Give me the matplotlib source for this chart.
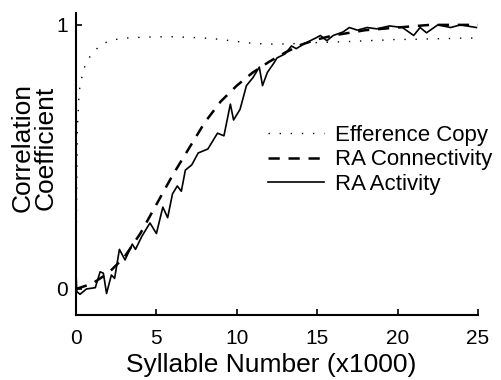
import matplotlib
matplotlib.use("Agg")
import matplotlib.pyplot as plt

plt.rcParams['font.family'] = ['Liberation Sans', 'DejaVu Sans']

# Efference copy (dotted)
eff_x = [0, 0.03, 0.08, 0.2, 0.45, 0.87, 1.3, 1.7, 2.3, 3, 4, 5, 6, 7, 8, 9, 10, 11, 12,
         13, 14, 15, 16, 17, 18, 19, 20, 21, 22, 23, 24, 25]
eff_y = [0.0, 0.3, 0.6, 0.75, 0.83, 0.88, 0.91, 0.93, 0.943, 0.95, 0.953, 0.955, 0.955,
         0.953, 0.95, 0.945, 0.937, 0.93, 0.927, 0.928, 0.93, 0.933, 0.935, 0.937, 0.94,
         0.942, 0.945, 0.945, 0.947, 0.948, 0.95, 0.95]

# RA connectivity (dashed)
con_x = list(range(0, 26))
con_y = [0.0, 0.02, 0.06, 0.12, 0.21, 0.32, 0.43, 0.53, 0.63, 0.71, 0.77, 0.82, 0.86,
         0.895, 0.925, 0.945, 0.96, 0.97, 0.98, 0.985, 0.99, 0.995, 1.0, 1.0, 1.0, 1.0]

# RA activity (solid)
act_x = [0.0, 0.05, 0.25, 0.65, 1.2, 1.5, 1.7, 1.9, 2.2, 2.4, 2.7, 3.05, 3.5, 3.7, 4.1,
         4.6, 5.0, 5.4, 5.7, 6.0, 6.3, 6.55, 6.8, 7.2, 7.6, 8.2, 8.5, 8.8, 9.2, 9.6, 9.8,
         10.2, 10.6, 11.0, 11.4, 11.6, 11.9, 12.3, 12.5, 13.0, 13.4, 13.7, 14.1, 14.4,
         14.9, 15.2, 15.6, 16.0, 16.6, 17.0, 17.5, 18.1, 18.7, 19.5, 20.3, 21.0, 21.4,
         21.8, 22.5, 23.3, 23.9, 24.4, 24.9]
act_y = [0.06, -0.01, -0.02, 0.0, 0.005, 0.065, 0.06, -0.017, 0.053, 0.04, 0.15, 0.11,
         0.17, 0.15, 0.2, 0.25, 0.21, 0.31, 0.27, 0.36, 0.39, 0.37, 0.45, 0.47, 0.515,
         0.53, 0.56, 0.59, 0.58, 0.70, 0.64, 0.68, 0.77, 0.80, 0.84, 0.77, 0.82, 0.855,
         0.875, 0.89, 0.92, 0.91, 0.925, 0.935, 0.95, 0.96, 0.94, 0.96, 0.973, 0.99, 0.98,
         0.99, 0.985, 0.996, 0.99, 0.96, 0.99, 0.97, 1.0, 0.99, 1.0, 0.995, 0.99]

labels = ["Efference Copy", "RA Connectivity", "RA Activity"]
x_ticks = [0, 5, 10, 15, 20, 25]
y_ticks = [0, 1]

fig = plt.figure(figsize=(5.01, 3.80), dpi=100)
ax = fig.add_axes([76/501, 65/380, 402/501, 302/380])

ax.plot(eff_x, eff_y, color='black', lw=1.0, linestyle=(0, (1, 7)), label=labels[0])
ax.plot(con_x, con_y, color='black', lw=1.8, linestyle=(0, (4.5, 3.5)), label=labels[1])
ax.plot(act_x, act_y, color='black', lw=1.2, linestyle='-', label=labels[2])

ax.set_xlim(0, 25)
ax.set_ylim(-0.0985, 1.045)
ax.set_xticks(x_ticks)
ax.set_yticks(y_ticks)
ax.set_xticklabels([str(t) for t in x_ticks])
ax.set_yticklabels([str(t) for t in y_ticks])
ax.tick_params(direction='in', length=4, width=1.2, labelsize=15, pad=6)
ax.tick_params(axis='x', pad=10)
for s in ['top', 'right']:
    ax.spines[s].set_visible(False)
for s in ['left', 'bottom']:
    ax.spines[s].set_linewidth(1.5)

fig.text(271/501, 1 - 372/380, "Syllable Number (x1000)", ha='center', va='baseline',
         fontsize=19)
fig.text(34/501, 1 - 148/380, "Correlation\nCoefficient", ha='center', va='center',
         rotation=90, fontsize=19, linespacing=0.95)

ax.legend(loc='center left', bbox_to_anchor=((268-76)/402, (315-160)/302),
          frameon=False, fontsize=16, handlelength=2.5, handletextpad=0.5,
          labelspacing=0.15, borderpad=0, borderaxespad=0)

fig.savefig("out.png", dpi=100)
